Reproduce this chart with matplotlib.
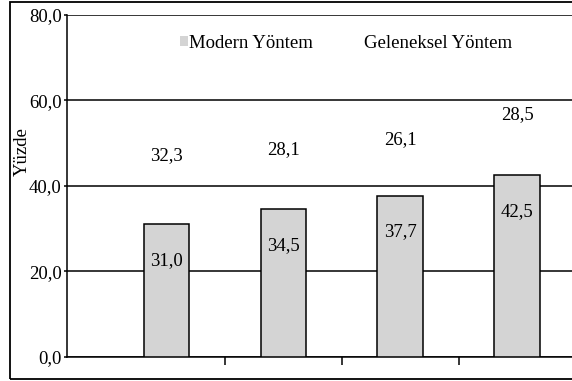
import matplotlib
matplotlib.use("Agg")
import matplotlib.pyplot as plt
from matplotlib.patches import Rectangle
from matplotlib.ticker import FuncFormatter, FixedLocator

plt.rcParams['font.family'] = ['Liberation Serif', 'DejaVu Serif']

# Data
groups = ["1", "2", "3", "4"]
modern = [31.0, 34.5, 37.7, 42.5]
geleneksel = [32.3, 28.1, 26.1, 28.5]
series_names = ["Modern Yöntem", "Geleneksel Yöntem"]
y_ticks = [0, 20, 40, 60, 80]

FS = 13.5


def tr(v):
    return f"{v:.1f}".replace(".", ",")


fig = plt.figure(figsize=(5.72, 3.81), dpi=100)
ax = fig.add_axes([0.1166, 0.063, 0.8834, 0.8984])

x = list(range(len(groups)))
width = 0.39

ax.set_axisbelow(True)
ax.yaxis.grid(True, color="black", linewidth=1.1)

b1 = ax.bar(x, modern, width, color="#d4d4d4", edgecolor="black",
            linewidth=1.1, label=series_names[0], zorder=3)
b2 = ax.bar(x, geleneksel, width, bottom=modern, color="white",
            edgecolor="none", linewidth=0, label=series_names[1], zorder=2,
            fill=False)

# Value labels
for xi, v in zip(x, modern):
    ax.annotate(tr(v), (xi, v), xytext=(0, -26), textcoords="offset points",
                ha="center", va="center", fontsize=FS, zorder=5)
for xi, b, v in zip(x, modern, geleneksel):
    ax.text(xi, b + v / 2, tr(v), ha="center", va="center", fontsize=FS,
            zorder=5)

ax.set_ylim(0, 80)
ax.set_xlim(-0.854, 3.47)
ax.set_yticks(y_ticks)
ax.yaxis.set_major_formatter(FuncFormatter(lambda v, p: tr(v)))
ax.xaxis.set_major_locator(FixedLocator([0.5, 1.5, 2.5, 3.5]))
ax.set_xticklabels([])
ax.tick_params(axis="x", direction="out", length=6, width=1.1, color="black")
ax.tick_params(axis="y", direction="out", length=2.5, width=1.1,
               labelsize=FS, pad=1)

for s in ["top", "right"]:
    ax.spines[s].set_visible(False)
for s in ["left", "bottom"]:
    ax.spines[s].set_linewidth(1.1)
    ax.spines[s].set_color("black")

ax.set_ylabel("Yüzde", fontsize=FS)
ax.yaxis.set_label_coords(-0.0707, 0.599)

leg = fig.legend(handles=[b1, b2], labels=series_names, ncol=2,
                 loc="center", bbox_to_anchor=(0.605, 0.887),
                 frameon=False, fontsize=FS, handlelength=0.42,
                 handleheight=0.42, handletextpad=0.08, columnspacing=2.2,
                 borderpad=0)
for h in leg.legend_handles:
    h.set_edgecolor("none")
leg.legend_handles[0].set_facecolor("#d4d4d4")
leg.legend_handles[1].set_facecolor("white")
leg.legend_handles[1].set_fill(True)

# Outer frame
fig.patches.append(Rectangle((10 / 572, 2 / 381), 570 / 572, 377 / 381,
                             transform=fig.transFigure, fill=False,
                             edgecolor="black", linewidth=1.3,
                             clip_on=False))

fig.savefig("out.png", dpi=100)
